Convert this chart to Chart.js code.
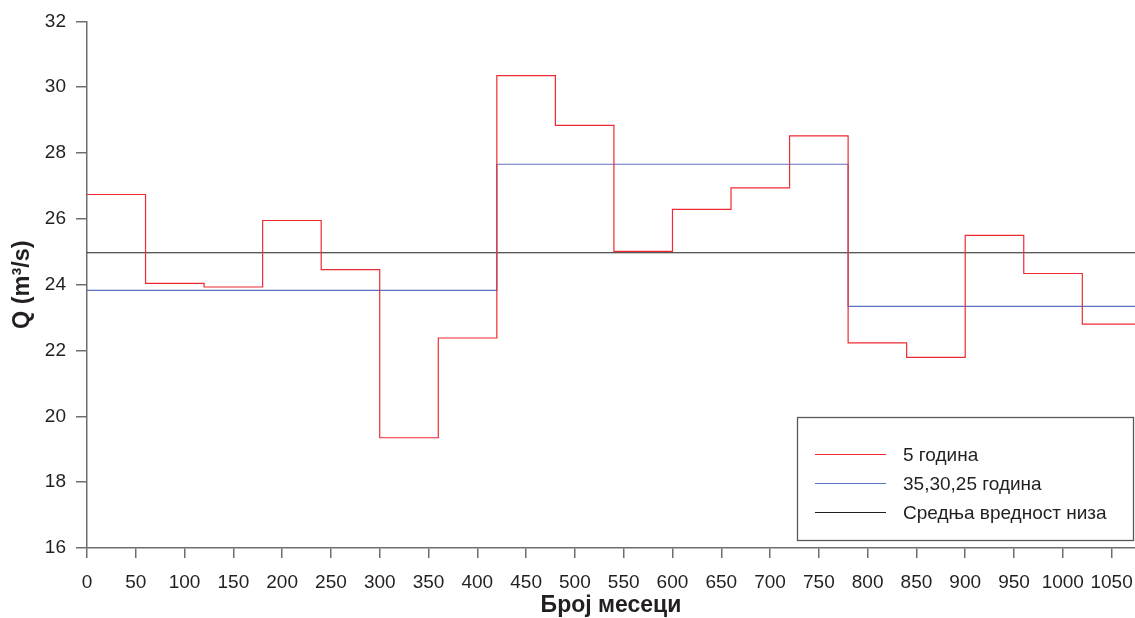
<!DOCTYPE html>
<html>
<head>
<meta charset="utf-8">
<script src="https://cdn.jsdelivr.net/npm/chart.js@4/dist/chart.umd.min.js"></script>
<style>
html, body { margin: 0; padding: 0; background: #fff; }
</style>
</head>
<body>
<canvas id="flow_chart" width="1135" height="618"></canvas>
<script>
// period starts (months) and mean flow over each period
const periodStart = [0, 60, 120, 180, 240, 300, 360, 420, 480, 540, 600, 660, 720, 780, 840, 900, 960, 1020];
const q5years = [26.74, 24.04, 23.93, 25.95, 24.46, 19.35, 22.38, 30.35, 28.84, 25.01, 26.29, 26.94, 28.52, 22.23, 21.79, 25.50, 24.34, 22.80];

const longStart = [0, 420, 780];
const qLong = [23.83, 27.66, 23.34];

const meanStart = [0];
const qMean = [24.97];

const lastMonth = 1074;

const xTicks = [0, 50, 100, 150, 200, 250, 300, 350, 400, 450, 500, 550, 600, 650, 700, 750, 800, 850, 900, 950, 1000, 1050];

const labels = ['5 година', '35,30,25 година', 'Средња вредност низа'];
const colors = ['#ee2a33', '#5b72c2', '#231f20'];

function stepPoints(starts, values) {
    const pts = starts.map((s, i) => ({x: s, y: values[i]}));
    pts.push({x: lastMonth, y: values[values.length - 1]});
    return pts;
}

const boxLegend = {
    id: 'boxLegend',
    afterDraw(chart) {
        const c = chart.ctx;
        c.save();
        c.fillStyle = '#fff';
        c.fillRect(797, 417, 337, 124);
        c.strokeStyle = '#58595b';
        c.lineWidth = 1.3;
        c.strokeRect(797.5, 417.5, 336, 123);
        chart.data.datasets.forEach((ds, i) => {
            const y = 454.5 + i * 29;
            c.strokeStyle = ds.borderColor;
            c.lineWidth = 1.2;
            c.beginPath();
            c.moveTo(815, y);
            c.lineTo(886, y);
            c.stroke();
            c.fillStyle = '#231f20';
            c.font = '19px "Liberation Sans", Arial, sans-serif';
            c.textBaseline = 'middle';
            c.fillText(ds.label, 903, y + 1);
        });
        c.restore();
    }
};

Chart.defaults.font.family = '"Liberation Sans", Arial, sans-serif';

const axisColor = '#6d6e71';
const textColor = '#231f20';

const config = {
    type: 'line',
    data: {
        datasets: [
            {label: labels[0], data: stepPoints(periodStart, q5years), borderColor: colors[0], borderWidth: 1.2, stepped: 'before'},
            {label: labels[1], data: stepPoints(longStart, qLong), borderColor: colors[1], borderWidth: 1.2, stepped: 'before'},
            {label: labels[2], data: stepPoints(meanStart, qMean), borderColor: colors[2], borderWidth: 1.2, stepped: 'before'}
        ]
    },
    options: {
        responsive: false,
        animation: false,
        devicePixelRatio: 1,
        layout: {padding: {top: 21, right: 0, left: 0, bottom: 0}},
        elements: {point: {radius: 0}},
        plugins: {
            legend: {display: false},
            tooltip: {enabled: false}
        },
        scales: {
            x: {
                type: 'linear',
                min: 0,
                max: lastMonth,
                ticks: {autoSkip: false, maxRotation: 0, padding: 13, color: textColor, font: {size: 19}, callback: v => String(v)},
                afterBuildTicks: s => { s.ticks = xTicks.map(v => ({value: v})); },
                afterFit: s => { s.height = 70; s.paddingRight = 0; s.paddingLeft = 0; },
                grid: {drawOnChartArea: false, drawTicks: true, tickLength: 10, color: axisColor, lineWidth: 1.5},
                border: {color: axisColor, width: 1.5},
                title: {display: true, text: 'Број месеци', color: textColor, font: {size: 23, weight: 'bold'}, padding: {top: 0, bottom: -1}}
            },
            y: {
                min: 16,
                max: 32,
                ticks: {stepSize: 2, padding: 10, color: textColor, font: {size: 19}},
                afterFit: s => { s.width = 87; },
                grid: {drawOnChartArea: false, drawTicks: true, tickLength: 11, color: axisColor, lineWidth: 1.5},
                border: {color: axisColor, width: 1.5},
                title: {display: true, text: 'Q (m³/s)', color: textColor, font: {size: 23.5, weight: 'bold'}, padding: {top: 8, bottom: 0}}
            }
        }
    },
    plugins: [boxLegend]
};

const chart = new Chart(document.getElementById('flow_chart'), config);
</script>
</body>
</html>
